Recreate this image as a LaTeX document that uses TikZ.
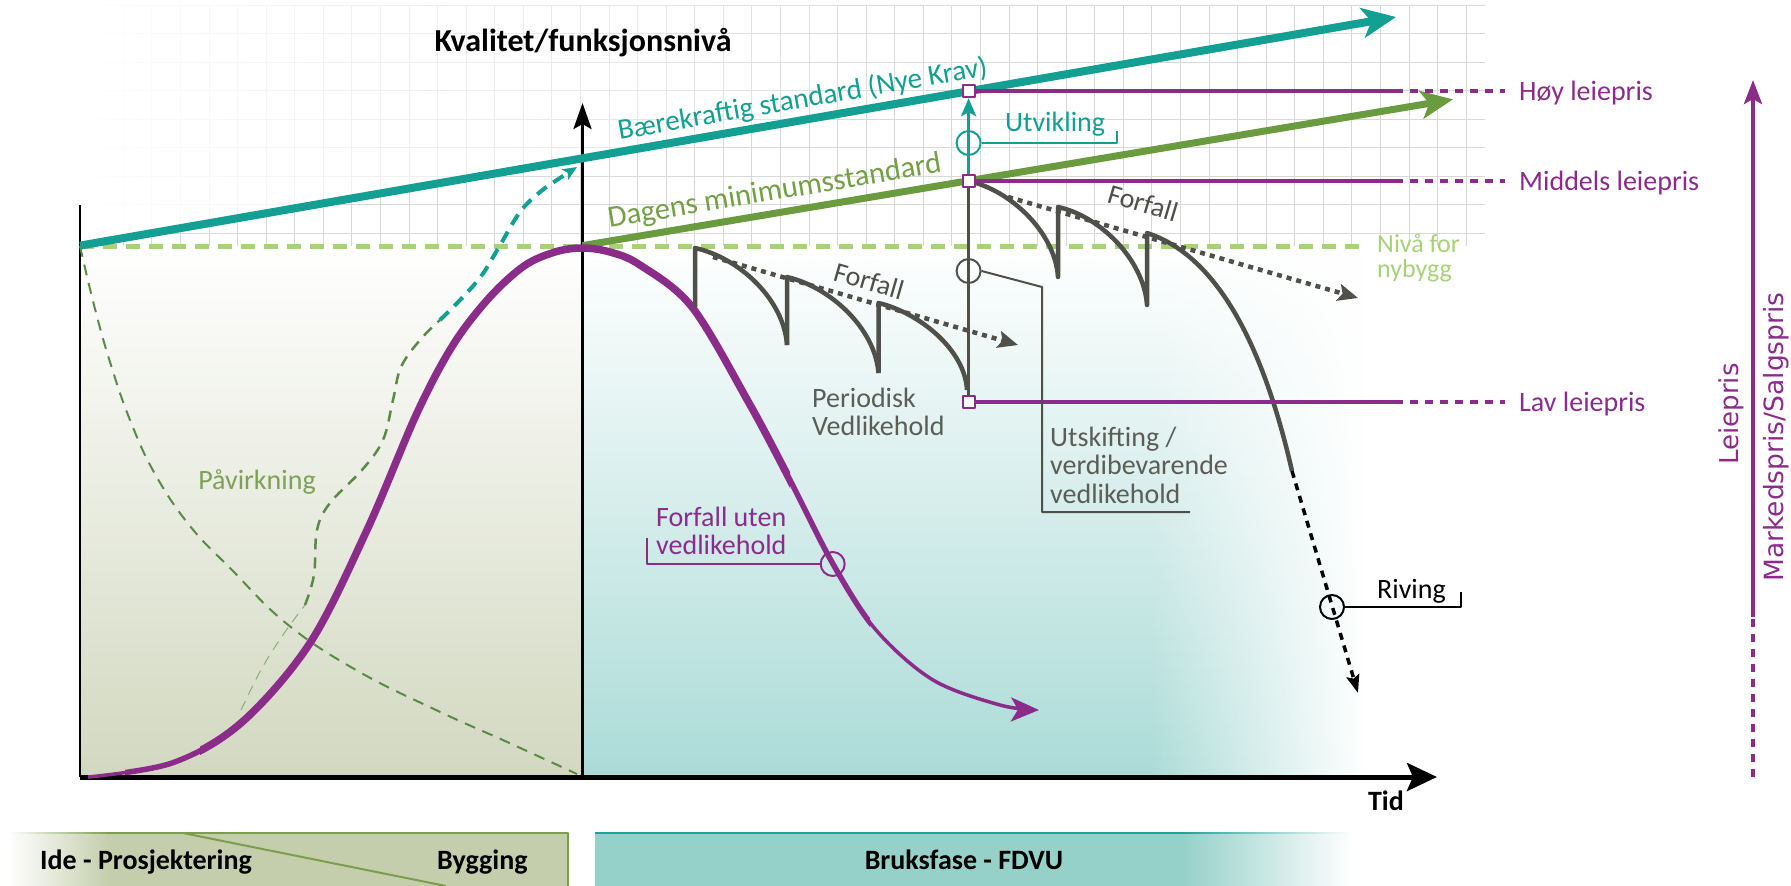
\documentclass[tikz,border=0pt]{standalone}
\usepackage{fontspec}
\setmainfont{Carlito}
\newfontfamily\dejavu{DejaVu Sans}
\usetikzlibrary{arrows.meta,fadings}
\definecolor{cTeal}{HTML}{13A092}
\definecolor{cGreen}{HTML}{6B9B3F}
\definecolor{cDag}{HTML}{74A046}
\definecolor{cLight}{HTML}{A8D179}
\definecolor{cPurple}{HTML}{8B2C8A}
\definecolor{cGray}{HTML}{4E5049}
\definecolor{cTxtGray}{HTML}{5B5D56}
\definecolor{cPaav}{HTML}{7FA058}
\definecolor{cDashG}{HTML}{5A8A48}
\definecolor{cGrid}{HTML}{D8D8D8}
\definecolor{cSage}{HTML}{D2D8C0}
\definecolor{cAqua}{HTML}{ABDBD7}
\definecolor{cBarG}{HTML}{C4CEAC}
\definecolor{cBarGline}{HTML}{7C9C4E}
\definecolor{cBarT}{HTML}{95D0C9}
\definecolor{cBarTline}{HTML}{1FA195}
\tikzfading[name=opaqueRight, left color=transparent!100, right color=transparent!0]
\tikzfading[name=opaqueLeft, left color=transparent!0, right color=transparent!100]
\begin{document}
\begin{tikzpicture}[x=1pt,y=-1pt, line join=round,
  lbl/.style={inner sep=0pt, align=left, font=\fontsize{28}{28.5}\selectfont},
  blbl/.style={inner sep=0pt, font=\bfseries\fontsize{28}{30}\selectfont},
  sq/.style={rectangle, draw=cPurple, fill=white, line width=2pt, minimum size=12pt, inner sep=0pt},
  ring/.style={circle, line width=2pt, minimum size=24pt, inner sep=0pt},
  gridline/.style={cGrid, line width=1pt},
  sawtooth/.style={cGray, line width=4.5pt},
  dotarrow/.style={cGray, line width=4.5pt, dash pattern=on 5pt off 5pt, -{Stealth[length=20pt,width=17pt,inset=4pt]}},
  bracket/.style={line width=2pt},
  pline/.style={cPurple, line width=4pt},
  pdash/.style={cPurple, line width=4pt, dash pattern=on 8pt off 7pt},
]
\useasboundingbox (0,0) rectangle (1791,886);
\fill[white] (0,0) rectangle (1791,886);

% panels
\shade[top color=white, bottom color=cSage] (80,246) rectangle (582.5,777);
\shade[top color=white, bottom color=cAqua] (582.5,246) rectangle (1362,777);
\fill[white, path fading=opaqueRight] (1150,246) rectangle (1363,777);

% grid
\foreach \i in {-17,...,31} \draw[gridline] ({580.5+\i*28.57},5) -- ({580.5+\i*28.57},246);
\foreach \j in {0,...,8} \draw[gridline] (80,{233-\j*28.5}) -- (1485,{233-\j*28.5});
\fill[white, path fading=opaqueLeft] (60,0) -- (60,246) -- (80,245.6) -- (1000,85.8) -- (1000,0) -- cycle;

% new-build level
\draw[cLight, line width=5pt, dash pattern=on 14pt off 9pt] (80,246) -- (1366,246);

% axes
\draw[line width=2pt] (80,205) -- (80,777);
\coordinate (O) at (582.5,777);
\coordinate (Ytop) at (582.5,103);
\coordinate (Xl) at (80,777);
\coordinate (Xr) at (1437,777);
\draw[line width=3.5pt, -{Stealth[length=26pt,width=18pt,inset=5pt]}] (O) -- (Ytop);
\draw[line width=5pt, -{Stealth[length=30pt,width=28pt,inset=6pt]}] (Xl) -- (Xr);

% standards
\coordinate (tealA) at (80,245.6);
\coordinate (tealB) at (1396,17);
\coordinate (grA) at (582.5,245.6);
\coordinate (grB) at (1453,99.4);
\draw[cTeal, line width=8pt, -{Stealth[length=34pt,width=30pt,inset=9pt]}] (tealA) -- (tealB);
\draw[cGreen, line width=7pt, -{Stealth[length=32pt,width=28pt,inset=8pt]}] (grA) -- (grB);
\node[lbl, text=cTeal, anchor=base, rotate=9.85, font=\fontsize{29}{30}\selectfont] (baer) at (804,107.7) {Bærekraftig standard (Nye Krav)};
\node[lbl, text=cDag, anchor=base, rotate=9.54, font=\fontsize{30.5}{31}\selectfont] (dag) at (776,200) {Dagens minimumsstandard};

% influence curves
\draw[cDashG, line width=2pt, dash pattern=on 11pt off 8pt] plot[smooth, tension=0.7] coordinates {(80,246) (94,305) (110,362) (130,420) (155,474) (190,526) (232,570) (287,624) (356,670) (436,710) (505,741) (577,774)};
\draw[cDashG!70, line width=1pt, dash pattern=on 10pt off 7pt] plot[smooth, tension=0.6] coordinates {(241,710) (262,668) (285,632) (305,605)};
\draw[cDashG, line width=2.5pt, dash pattern=on 11pt off 8pt] plot[smooth, tension=0.6] coordinates {(305,605) (314,575) (317,530) (330,503) (362,470) (383,440) (393,400) (401,367) (420,340) (440,320)};
\draw[cTeal, line width=4pt, dash pattern=on 12pt off 8pt, -{Stealth[length=14pt,width=12pt,inset=3pt]}] plot[smooth, tension=0.6] coordinates {(440,320) (462,298) (482,275) (499,247) (520,212) (540,192) (560,178) (577,167)};
\node[lbl, text=cPaav] (paav) at (257,482) {Påvirkning};

% life curve without maintenance
\def\lifecurve{plot[smooth, tension=0.55] coordinates {(88,777) (172,763) (241,723) (310,643) (367,530) (417,413) (453,345) (489,298) (524,266) (555,252) (582,248) (610,252) (640,265) (692,307) (749,403) (790,480) (833,564) (876,630) (933,680) (1000,705) (1039,710)}}
\draw[cPurple, line width=3.5pt, -{Stealth[length=28pt,width=24pt,inset=7pt]}] \lifecurve;
\begin{scope}
\clip (125,0) rectangle (200,886);
\draw[cPurple, line width=5.5pt] \lifecurve;
\end{scope}
\begin{scope}
\clip (200,0) rectangle (790,886);
\draw[cPurple, line width=7.5pt] \lifecurve;
\end{scope}
\begin{scope}
\clip (790,0) rectangle (870,886);
\draw[cPurple, line width=5.5pt] \lifecurve;
\end{scope}

% periodic maintenance saw-tooth
\draw[sawtooth] (695,307) -- (695,248) .. controls (740,258) and (784,300) .. (787,345);
\draw[sawtooth] (787,345) -- (787,277) .. controls (830,287) and (875,328) .. (878.5,373);
\draw[sawtooth] (878.5,373) -- (878.5,303) .. controls (920,313) and (965,350) .. (967,390);
\draw[sawtooth] (968.6,181) .. controls (1010,190) and (1055,232) .. (1058,277) -- (1058,207) .. controls (1100,216) and (1144,260) .. (1147,305) -- (1147,233) .. controls (1215,255) and (1262,340) .. (1292,471);
\coordinate (rivA) at (1292,471);
\coordinate (rivB) at (1358,693);
\draw[black, line width=3.5pt, dash pattern=on 7pt off 6pt, -{Stealth[length=18pt,width=13pt,inset=3pt]}] (rivA) -- (rivB);

\coordinate (f1a) at (713,257);
\coordinate (f1b) at (1018,345);
\coordinate (f2a) at (1008,197);
\coordinate (f2b) at (1358,298);
\draw[dotarrow] (f1a) -- (f1b);
\draw[dotarrow] (f2a) -- (f2b);
\node[lbl, text=cGray, rotate=-16] (forf1) at (869,281) {Forfall};
\node[lbl, text=cGray, rotate=-16.5] (forf2) at (1143,203) {Forfall};

% upgrade column
\coordinate (pH) at (968.6,91.2);
\coordinate (pM) at (968.6,180.7);
\coordinate (pL) at (968.6,402);
\draw[cGray, line width=3pt] (pM) -- (pL);
\draw[cTeal, line width=3.5pt, shorten >=7pt, -{Stealth[length=18pt,width=15pt,inset=4pt]}] (pM) -- (pH);

% rent lines
\node[lbl, text=cPurple, anchor=base west] (lH) at (1519,100) {Høy leiepris};
\node[lbl, text=cPurple, anchor=base west] (lM) at (1519,190) {Middels leiepris};
\node[lbl, text=cPurple, anchor=base west] (lL) at (1519,411) {Lav leiepris};
\coordinate (eH) at (1395,91.2);
\coordinate (eM) at (1395,180.7);
\coordinate (eL) at (1395,402);
\coordinate (dH) at (1505,91.2);
\coordinate (dM) at (1505,180.7);
\coordinate (dL) at (1505,402);
\draw[pline] (pH) -- (eH);
\draw[pline] (pM) -- (eM);
\draw[pline] (pL) -- (eL);
\draw[pdash] (eH) -- (dH);
\draw[pdash] (eM) -- (dM);
\draw[pdash] (eL) -- (dL);
\node[sq] (sqH) at (pH) {};
\node[sq] (sqM) at (pM) {};
\node[sq] (sqL) at (pL) {};

% callouts
\node[ring, draw=cTeal] (cU) at (968.6,143) {};
\coordinate (uA) at (1117,143);
\coordinate (uB) at (1117,131);
\draw[cTeal, bracket] (cU.east) -- (uA) -- (uB);
\node[lbl, text=cTeal, anchor=base west] (utv) at (1005,131) {Utvikling};

\node[ring, draw=cGray] (cS) at (968.6,271) {};
\coordinate (sA) at (1042,287);
\coordinate (sB) at (1042,512);
\coordinate (sC) at (1190,512);
\draw[cGray, bracket] (cS.east) -- (sA) -- (sB) -- (sC);
\node[lbl, text=cTxtGray, anchor=west] (utsk) at (1050,465) {Utskifting /\\verdibevarende\\vedlikehold};

\node[lbl, text=cTxtGray, anchor=west] (per) at (812,412) {Periodisk\\Vedlikehold};

\node[ring, draw=cPurple] (cF) at (832.7,564) {};
\coordinate (fA) at (647,564);
\coordinate (fB) at (647,538);
\draw[cPurple, bracket] (cF.west) -- (fA) -- (fB);
\node[lbl, text=cPurple, anchor=west] (fuv) at (656,531) {Forfall uten\\vedlikehold};

\node[ring, draw=black] (cR) at (1332,607) {};
\coordinate (rA) at (1461,607);
\coordinate (rB) at (1461,592);
\draw[black, bracket] (cR.east) -- (rA) -- (rB);
\node[lbl, text=black, anchor=base west] (riv) at (1377,598) {Riving};

\node[lbl, text=cLight, anchor=west, font=\fontsize{26}{25}\selectfont] (niv) at (1377,258) {Nivå for\\nybygg};

% titles
\node[blbl, font=\bfseries\fontsize{32}{34}\selectfont, anchor=base] (title) at (583,51) {Kvalitet/funksjonsnivå};
\node[blbl, anchor=base] (tid) at (1386,810) {Tid};

% right price axis
\coordinate (rpB) at (1753,777);
\coordinate (rpM) at (1753,617);
\coordinate (rpT) at (1753,80);
\draw[pdash] (rpB) -- (rpM);
\draw[pline, -{Stealth[length=24pt,width=18pt,inset=5pt]}] (rpM) -- (rpT);
\node[inner sep=0pt, rotate=90, text=cPurple, font=\dejavu\fontsize{26}{26}\selectfont] (leie) at (1731,414) {Leiepris};
\node[inner sep=0pt, rotate=90, text=cPurple, font=\dejavu\fontsize{26.5}{26}\selectfont] (mark) at (1776,437) {Markedspris/Salgspris};

% phase bars
\fill[cBarG] (11,833) rectangle (568,886);
\draw[cBarGline, line width=2pt] (11,833) -- (568,833) -- (568,886);
\draw[cBarGline, line width=2pt] (183,833) -- (446,886);
\fill[white, path fading=opaqueLeft] (9,831) rectangle (110,886);
\fill[cBarT] (595,833) rectangle (1350,886);
\draw[cBarTline, line width=2.5pt] (595,833) -- (1350,833);
\fill[white, path fading=opaqueRight] (1180,831) rectangle (1352,886);
\node[blbl, anchor=base west] (ide) at (40,869) {Ide - Prosjektering};
\node[blbl, anchor=base west] (byg) at (437,869) {Bygging};
\node[blbl, anchor=base] (bruk) at (964,869) {Bruksfase - FDVU};
\end{tikzpicture}
\end{document}
